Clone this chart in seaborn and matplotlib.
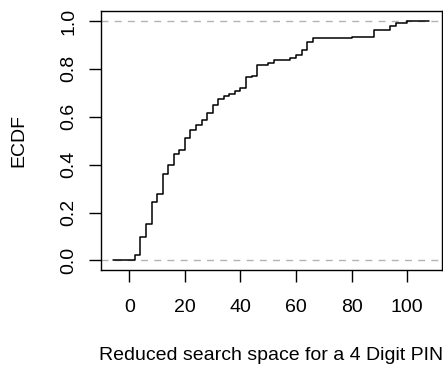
import numpy as np
import pandas as pd
import matplotlib
matplotlib.use("Agg")
import matplotlib.pyplot as plt
import seaborn as sns

# Distinct values of the sample (knots of the ECDF) and ECDF level after each knot
knots = [2, 4, 6, 8, 10, 12, 14, 16, 18, 20, 22, 24, 26, 28, 30, 32, 34, 36, 38, 40,
         42, 44, 46, 50, 52, 58, 60, 62, 64, 66, 80, 88, 94, 96, 100]
levels = [0.021, 0.099, 0.151, 0.243, 0.279, 0.360, 0.400, 0.446, 0.4625, 0.511,
          0.546, 0.567, 0.5875, 0.615, 0.650, 0.675, 0.685, 0.696, 0.708, 0.720,
          0.765, 0.771, 0.817, 0.826, 0.839, 0.846, 0.860, 0.881, 0.912, 0.928,
          0.935, 0.9625, 0.979, 0.990, 1.000]
xticks = [0, 20, 40, 60, 80, 100]
yticks = [0.0, 0.2, 0.4, 0.6, 0.8, 1.0]
xlabel = "Reduced search space for a 4 Digit PIN"
ylabel = "ECDF"

sns.set_style("white")
plt.rcParams["font.family"] = ["Liberation Sans", "DejaVu Sans"]
plt.rcParams["font.size"] = 14
for k in ["text.color", "axes.labelcolor", "xtick.color", "ytick.color", "axes.edgecolor"]:
    plt.rcParams[k] = "black"

df = pd.DataFrame({"x": knots, "w": np.diff(np.r_[0.0, levels])})

fig = plt.figure(figsize=(4.43, 3.67), dpi=100)
ax = fig.add_axes([0.2269, 0.2643, 0.7698, 0.7044])

# R-style plot range for a step function
kn = np.array(knots, dtype=float)
dr = max(0.08 * (kn.max() - kn.min()), np.median(np.diff(kn)))
lo, hi = kn.min() - dr, kn.max() + dr
ext = 0.04 * (hi - lo)
ax.set_xlim(lo - ext, hi + ext)
ax.set_ylim(-0.04, 1.04)

ax.axhline(0, color="#B3B3B3", lw=1, linestyle=(0, (5, 4.5)), zorder=1)
ax.axhline(1, color="#B3B3B3", lw=1, linestyle=(0, (5, 4.5)), zorder=1)

sns.ecdfplot(data=df, x="x", weights="w", ax=ax, color="black", lw=1.1, zorder=2)
line = ax.lines[-1]
xd = np.asarray(line.get_xdata(), dtype=float)
xd[~np.isfinite(xd)] = lo
line.set_xdata(xd)
ax.plot([kn.max(), hi], [1, 1], color="black", lw=1.1, zorder=2)

ax.set_xticks(xticks)
ax.set_xticklabels([str(v) for v in xticks])
ax.set_yticks(yticks)
ax.set_yticklabels([f"{v:.1f}" for v in yticks], rotation=90, va="center")

for s in ax.spines.values():
    s.set_visible(True)
    s.set_color("black")
    s.set_linewidth(1)
ax.tick_params(axis="both", direction="out", length=8.6, width=1, color="black",
               labelcolor="black", labelsize=14, bottom=True, left=True,
               top=False, right=False)
ax.tick_params(axis="x", pad=12)
ax.tick_params(axis="y", pad=8)

ax.set_xlabel(xlabel, fontsize=14, va="center")
ax.xaxis.set_label_coords(0.5, -0.330)
ax.set_ylabel(ylabel, fontsize=14, va="center")
ax.yaxis.set_label_coords(-0.240, 0.5)

fig.savefig("out.png", dpi=100)
